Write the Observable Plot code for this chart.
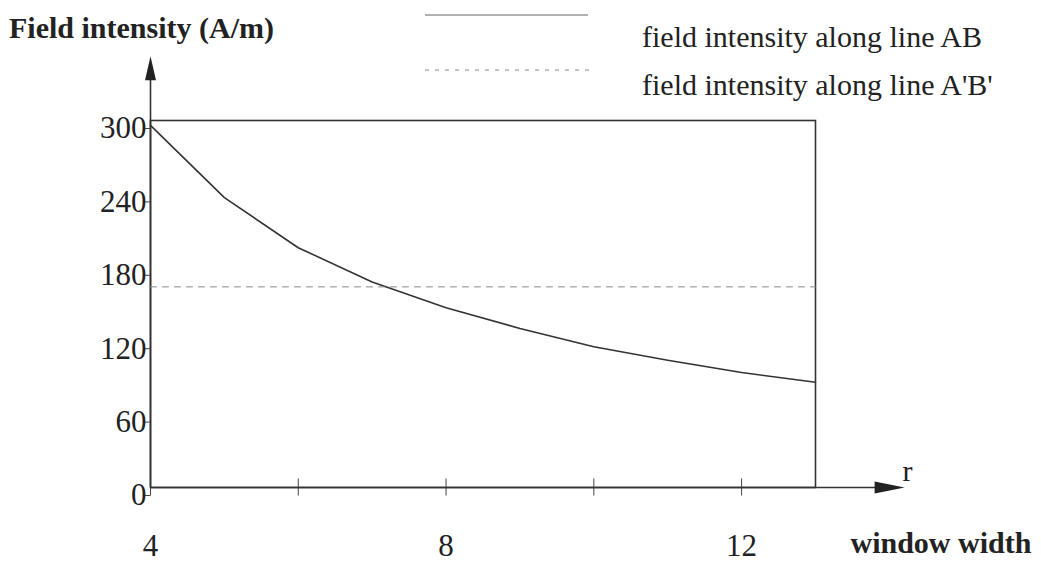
<!DOCTYPE html>
<html>
<head>
<meta charset="utf-8">
<script src="https://cdn.jsdelivr.net/npm/d3@7"></script>
<script src="https://cdn.jsdelivr.net/npm/@observablehq/plot@0.6"></script>
<style>
  body { margin: 0; background: #fff; }
  #wrap { position: relative; width: 1041px; height: 563px; overflow: hidden; font-family: "Liberation Serif", "Times New Roman", serif; color: #222; }
  #title { position: absolute; left: 9px; top: 13px; font-size: 30px; font-weight: bold; white-space: nowrap; line-height: 1; }
  .leg { position: absolute; left: 642px; font-size: 30px; white-space: nowrap; line-height: 1; }
  #chart { position: absolute; left: 0; top: 0; }
</style>
</head>
<body>
<div id="wrap">
  <div id="chart"></div>
  <div id="title">Field intensity (A/m)</div>
  <svg style="position:absolute;left:0;top:0" width="1041" height="110">
    <line x1="425" y1="15" x2="588" y2="15" stroke="#666" stroke-width="1"/>
    <line x1="425" y1="70" x2="590" y2="70" stroke="#888" stroke-width="1" stroke-dasharray="4,6"/>
  </svg>
  <div class="leg" style="top:22px">field intensity along line AB</div>
  <div class="leg" style="top:70px">field intensity along line A'B'</div>
</div>
<script>
const windowWidth = [4, 5, 6, 7, 8, 9, 10, 11, 12, 13];
const intensityAB = [296, 237, 196, 168, 147, 130, 115, 104, 94, 86];
const windowWidthPrime = [4, 13];
const intensityAPrimeBPrime = [164, 164];
const yTicks = [0, 60, 120, 180, 240, 300];
const xTickMarks = [4, 6, 8, 10, 12];
const xTickLabels = [4, 8, 12];

const ab = windowWidth.map((x, i) => ({x, y: intensityAB[i]}));
const abp = windowWidthPrime.map((x, i) => ({x, y: intensityAPrimeBPrime[i]}));

const head = (w) => ({
  draw(context, l) {
    context.moveTo(-w, 0);
    context.lineTo(0, -l);
    context.lineTo(w, 0);
    context.closePath();
  }
});

const chart = Plot.plot({
  width: 1041,
  height: 563,
  marginLeft: 150,
  marginRight: 226,
  marginTop: 120,
  marginBottom: 76,
  x: {domain: [4, 13]},
  y: {domain: [0, 300]},
  style: {fontFamily: "Liberation Serif", background: "transparent", color: "#222", overflow: "visible"},
  marks: [
    Plot.frame({stroke: "#333", strokeWidth: 1.6}),
    Plot.axisY({ticks: yTicks, tickSize: 7, tickPadding: -3, fontSize: 31, dy: 8, label: null, stroke: "#444", tickFormat: d => String(d)}),
    Plot.axisX({ticks: xTickLabels, tickSize: 0, tickPadding: 46, fontSize: 31, label: null, tickFormat: d => String(d)}),
    Plot.ruleX(xTickMarks, {x: d => d, y1: -7, y2: 7, stroke: "#444", strokeWidth: 1}),
    Plot.ruleX([4], {y1: 0, y2: 335, stroke: "#333", strokeWidth: 1.6}),
    Plot.ruleY([0], {x1: 4, x2: 13.85, stroke: "#333", strokeWidth: 1.6}),
    Plot.vector([0], {x: () => 4, y: () => 333, length: 24, rotate: 0, anchor: "start", shape: head(5.5), fill: "#222", stroke: "none"}),
    Plot.vector([0], {x: () => 13.8, y: () => 0, length: 30, rotate: 90, anchor: "start", shape: head(6), fill: "#222", stroke: "none"}),
    Plot.line(ab, {x: "x", y: "y", stroke: "#333", strokeWidth: 1.6}),
    Plot.line(abp, {x: "x", y: "y", stroke: "#888", strokeWidth: 1, strokeDasharray: "6,6"}),
    Plot.text(["r"], {frameAnchor: "bottom-right", dx: 97, dy: -7, fontSize: 30, fill: "#222"}),
    Plot.text(["window width"], {frameAnchor: "bottom-right", dx: 35, dy: 65, textAnchor: "start", fontSize: 30, fontWeight: "bold", fill: "#222"})
  ]
});
document.getElementById("chart").appendChild(chart);
</script>
</body>
</html>
